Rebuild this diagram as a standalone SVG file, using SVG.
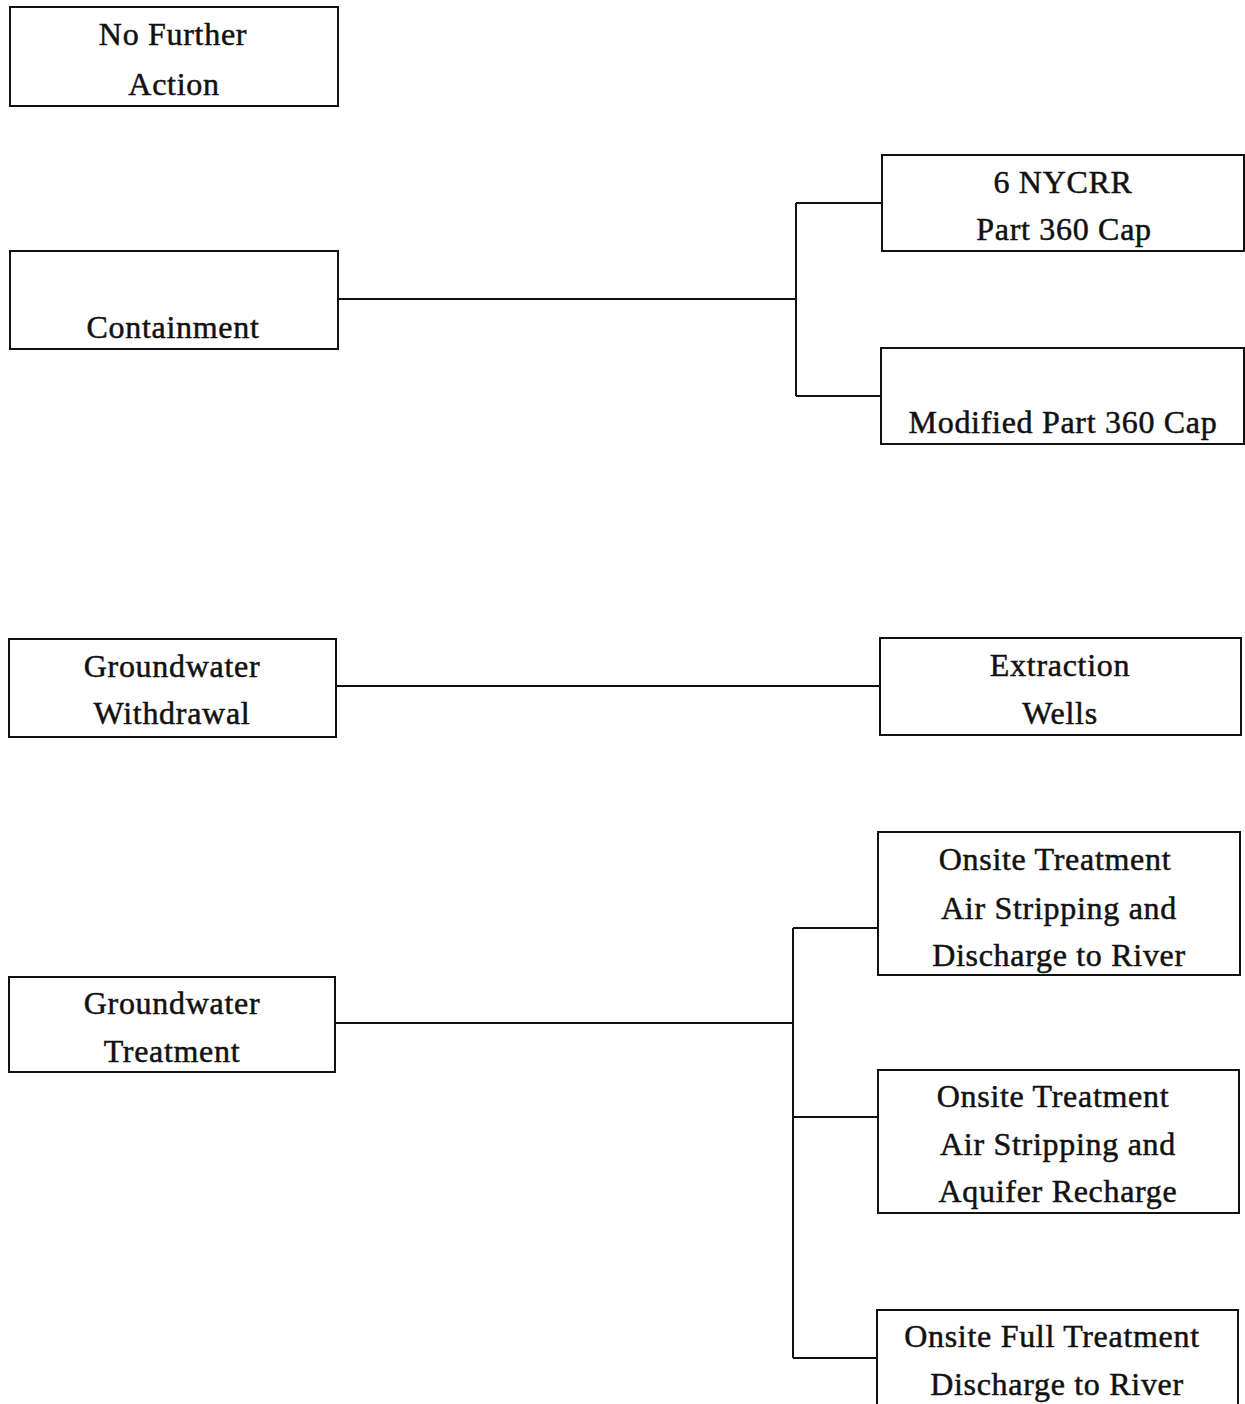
<svg xmlns="http://www.w3.org/2000/svg" width="1245" height="1404" viewBox="0 0 1245 1404">
<style>
.box{fill:#fff;stroke:#111;stroke-width:2}
.t{font-family:"Liberation Serif","Times New Roman",serif;font-size:32px;fill:#111;stroke:#111;stroke-width:0.5px;text-anchor:middle;letter-spacing:0.7px}
.c{fill:none;stroke:#111;stroke-width:2}
</style>
<rect width="1245" height="1404" fill="#fff"/>
<g id="connectors">
<path class="c" d="M338 299 H796 M796 203 V396 M796 203 H882 M796 396 H881"/>
<path class="c" d="M336 686 H880"/>
<path class="c" d="M335 1023 H793 M793 928 V1358 M793 928 H878 M793 1117 H878 M793 1358 H877"/>
</g>
<g id="no-further-action">
<rect class="box" x="10" y="7" width="328" height="99"/>
<text class="t" x="173" y="45">No Further</text>
<text class="t" x="174" y="95">Action</text>
</g>
<g id="containment">
<rect class="box" x="10" y="251" width="328" height="98"/>
<text class="t" x="173" y="338">Containment</text>
</g>
<g id="nycrr-cap">
<rect class="box" x="882" y="155" width="362" height="96"/>
<text class="t" x="1063" y="193">6 NYCRR</text>
<text class="t" x="1064" y="240">Part 360 Cap</text>
</g>
<g id="modified-cap">
<rect class="box" x="881" y="348" width="363" height="96"/>
<text class="t" x="1063" y="433">Modified Part 360 Cap</text>
</g>
<g id="groundwater-withdrawal">
<rect class="box" x="9" y="639" width="327" height="98"/>
<text class="t" x="172" y="677">Groundwater</text>
<text class="t" x="172" y="724">Withdrawal</text>
</g>
<g id="extraction-wells">
<rect class="box" x="880" y="638" width="361" height="97"/>
<text class="t" x="1060" y="676">Extraction</text>
<text class="t" x="1060" y="724">Wells</text>
</g>
<g id="groundwater-treatment">
<rect class="box" x="9" y="977" width="326" height="95"/>
<text class="t" x="172" y="1014">Groundwater</text>
<text class="t" x="172" y="1062">Treatment</text>
</g>
<g id="onsite-river">
<rect class="box" x="878" y="832" width="362" height="143"/>
<text class="t" x="1055" y="870">Onsite Treatment</text>
<text class="t" x="1059" y="919">Air Stripping and</text>
<text class="t" x="1059" y="966">Discharge to River</text>
</g>
<g id="onsite-recharge">
<rect class="box" x="878" y="1070" width="361" height="143"/>
<text class="t" x="1053" y="1107">Onsite Treatment</text>
<text class="t" x="1058" y="1155">Air Stripping and</text>
<text class="t" x="1058" y="1202">Aquifer Recharge</text>
</g>
<g id="onsite-full">
<rect class="box" x="877" y="1310" width="361" height="110"/>
<text class="t" x="1052" y="1347">Onsite Full Treatment</text>
<text class="t" x="1057" y="1395">Discharge to River</text>
</g>
</svg>
